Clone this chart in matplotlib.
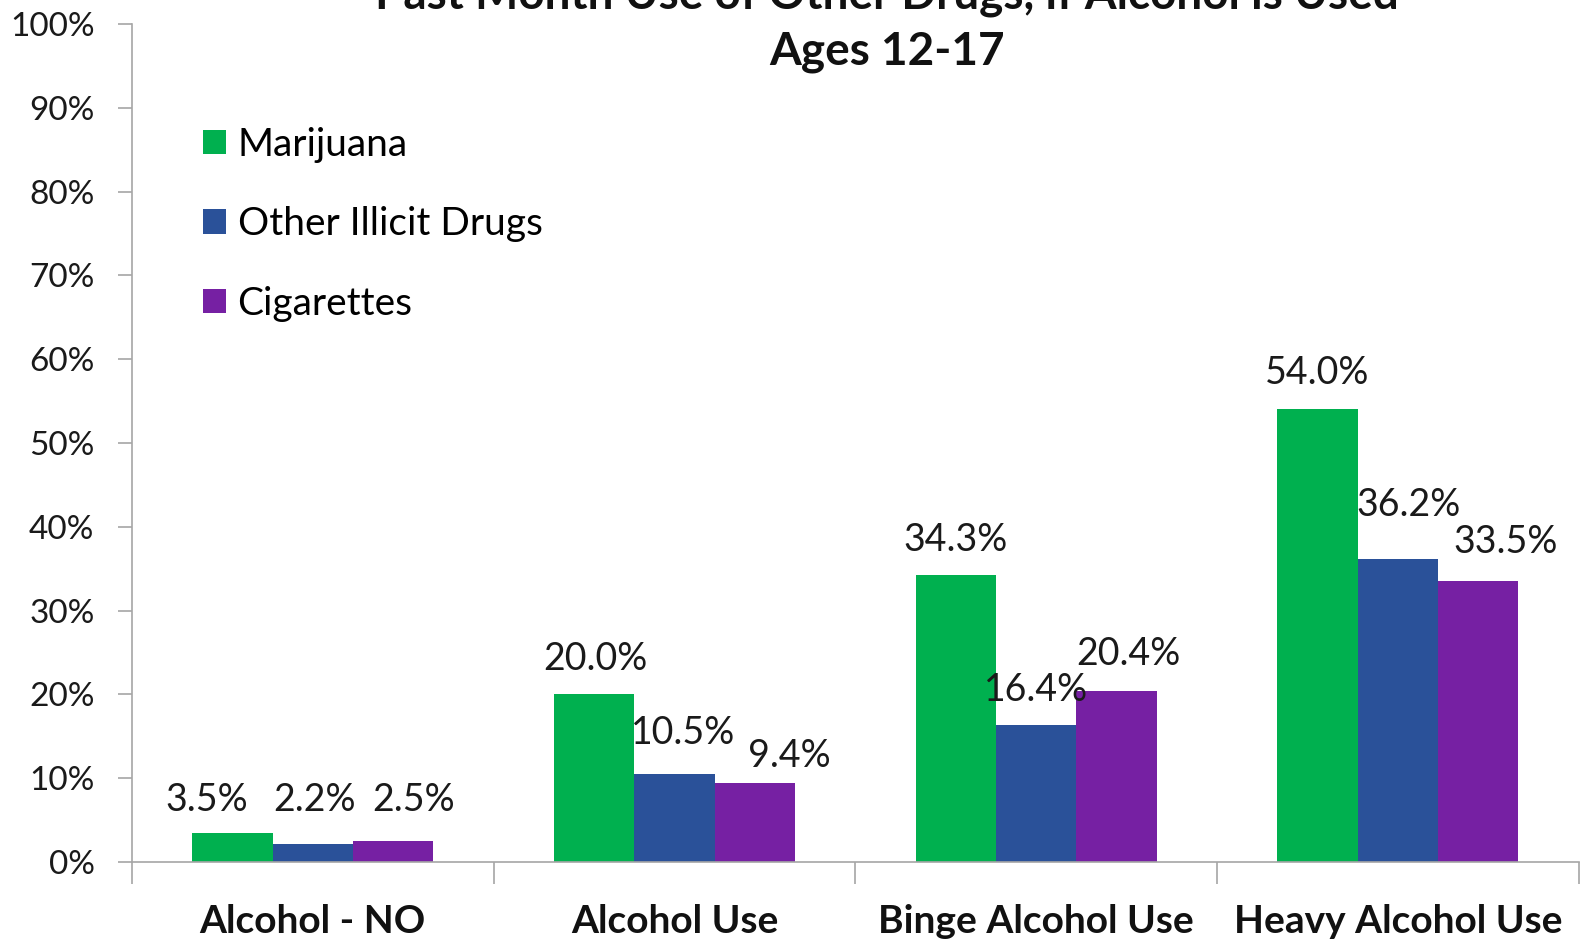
import matplotlib
matplotlib.use("Agg")
import matplotlib.pyplot as plt
import numpy as np
from matplotlib.patches import Patch

plt.rcParams['font.family'] = ['Lato', 'DejaVu Sans']

# data: past month use (%) by alcohol use level, ages 12-17
categories = ['Alcohol - NO', 'Alcohol Use', 'Binge Alcohol Use', 'Heavy Alcohol Use']
series = ['Marijuana', 'Other Illicit Drugs', 'Cigarettes']
marijuana = [3.5, 20.0, 34.3, 54.0]
other_illicit = [2.2, 10.5, 16.4, 36.2]
cigarettes = [2.5, 9.4, 20.4, 33.5]
yticks = [0, 10, 20, 30, 40, 50, 60, 70, 80, 90, 100]

colors = ['#00B04F', '#2A5199', '#7620A3']
values = [marijuana, other_illicit, cigarettes]

# label nudges in pixels (Excel-ish placement)
label_dx = [[-26, 2, 20], [1, 9, 35], [0, 0, 12], [0, 11, 28]]
label_dy = [[33, 44, 41], [35, 41, 27], [35, 35, 37], [36, 54, 39]]

fig = plt.figure(figsize=(15.81, 9.41), dpi=100)
ax = fig.add_axes([0.0835, 0.084, 0.915, 0.8905])

x = np.arange(len(categories))
w = 0.222
for s in range(3):
    bars = ax.bar(x + (s - 1) * w, values[s], width=w, color=colors[s],
                  label=series[s], zorder=2)
    for g, b in enumerate(bars):
        ax.annotate('%.1f%%' % values[s][g],
                    (b.get_x() + b.get_width() / 2, b.get_height()),
                    xytext=(label_dx[g][s], label_dy[g][s]), textcoords='offset pixels',
                    ha='center', va='center', fontsize=27, color='#1a1a1a')

ax.set_xlim(-0.5, 3.5)
ax.set_ylim(0, 100)
ax.set_yticks(yticks)
ax.set_yticklabels(['%d%%' % t for t in yticks], fontsize=24, color='#1a1a1a')
ax.tick_params(axis='y', length=10, width=1.2, color='#a6a6a6', pad=17)

# category separators as ticks, names as minor labels
ax.set_xticks(np.arange(-0.5, 4.0, 1.0))
ax.set_xticklabels([])
ax.tick_params(axis='x', which='major', length=16, width=1.2, color='#a6a6a6')
ax.set_xticks(x, minor=True)
ax.set_xticklabels(categories, minor=True, fontsize=28, fontweight='bold', color='#111111')
ax.tick_params(axis='x', which='minor', length=0, pad=30)

for side in ['top', 'right']:
    ax.spines[side].set_visible(False)
for side in ['left', 'bottom']:
    ax.spines[side].set_color('#a6a6a6')
    ax.spines[side].set_linewidth(1.2)

handles = [Patch(facecolor=c) for c in colors]
ax.legend(handles, series, loc='upper left', bbox_to_anchor=(0.038, 0.896),
          frameon=False, fontsize=28, handlelength=0.6, handleheight=0.6,
          handletextpad=0.3, labelspacing=1.12, borderaxespad=0)

fig.text(887 / 1581, 1 + 4 / 941, 'Past Month Use of Other Drugs, if Alcohol is Used',
         ha='center', va='center', fontsize=33, fontweight='bold', color='#111111')
fig.text(887 / 1581, 1 - 52 / 941, 'Ages 12-17',
         ha='center', va='center', fontsize=33, fontweight='bold', color='#111111')

fig.savefig('out.png', dpi=100, facecolor='white')
